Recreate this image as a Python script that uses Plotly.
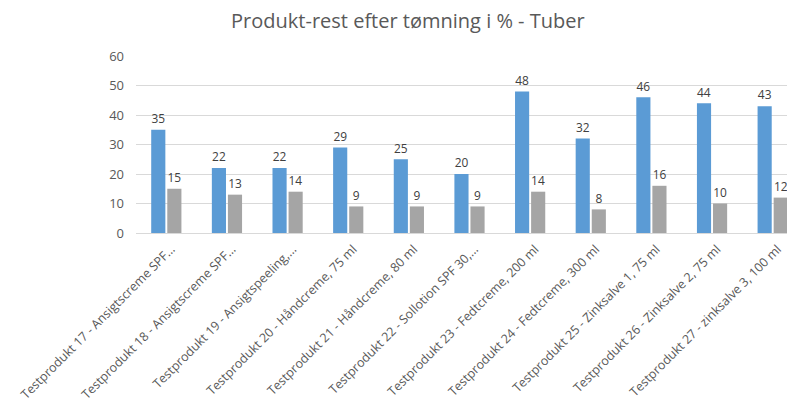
import plotly.graph_objects as go

categories = [
    "Testprodukt 17 - Ansigtscreme SPF…",
    "Testprodukt 18 - Ansigtscreme SPF…",
    "Testprodukt 19 - Ansigtspeeling,…",
    "Testprodukt 20 - Håndcreme, 75 ml",
    "Testprodukt 21 - Håndcreme, 80 ml",
    "Testprodukt 22 - Sollotion SPF 30,…",
    "Testprodukt 23 - Fedtcreme, 200 ml",
    "Testprodukt 24 - Fedtcreme, 300 ml",
    "Testprodukt 25 - Zinksalve 1, 75 ml",
    "Testprodukt 26 - Zinksalve 2, 75 ml",
    "Testprodukt 27 - zinksalve 3, 100 ml",
]
series_blue = [35, 22, 22, 29, 25, 20, 48, 32, 46, 44, 43]
series_gray = [15, 13, 14, 9, 9, 9, 14, 8, 16, 10, 12]
y_ticks = [0, 10, 20, 30, 40, 50, 60]

FONT = "Open Sans"
x_idx = list(range(len(categories)))

fig = go.Figure()
fig.add_trace(go.Bar(
    x=x_idx, y=series_blue, marker=dict(color="#5B9BD5", line=dict(width=0)),
    text=[str(v) for v in series_blue], textposition="outside",
    textfont=dict(family=FONT, size=13, color="#404040"), cliponaxis=False,
    showlegend=False,
))
fig.add_trace(go.Bar(
    x=x_idx, y=series_gray, marker=dict(color="#A5A5A5", line=dict(width=0)),
    text=[str(v) for v in series_gray], textposition="outside",
    textfont=dict(family=FONT, size=13, color="#404040"), cliponaxis=False,
    showlegend=False,
))

fig.update_layout(
    width=795, height=419,
    margin=dict(l=128, r=0, t=48, b=194, autoexpand=False),
    paper_bgcolor="white", plot_bgcolor="white",
    barmode="group", bargap=0.47, bargroupgap=0.12,
    title=dict(text="Produkt-rest efter tømning i % - Tuber", x=0.503, xanchor="center",
               y=0.968, yanchor="middle",
               font=dict(family=FONT, size=20, color="#595959")),
    font=dict(family=FONT, color="#595959"),
    uniformtext=dict(minsize=8, mode="show"),
)
fig.update_xaxes(
    tickmode="array", tickvals=x_idx, ticktext=categories,
    tickangle=-45, tickfont=dict(family=FONT, size=12.5, color="#595959"),
    range=[-0.5, 10.5], showgrid=False, zeroline=False, automargin=False,
    ticklabeloverflow="allow", ticklabelshift=5, ticklabelstandoff=3,
    showline=True, linecolor="#D9D9D9", linewidth=1, ticks="",
)
fig.update_yaxes(
    range=[0, 60], tickmode="array", tickvals=y_ticks, automargin=False,
    tickfont=dict(family=FONT, size=13, color="#595959"),
    showgrid=True, gridcolor="#D9D9D9", gridwidth=1, zeroline=False,
    showline=False, ticks="", ticklabelstandoff=11,
)

fig.write_html("out.html")
